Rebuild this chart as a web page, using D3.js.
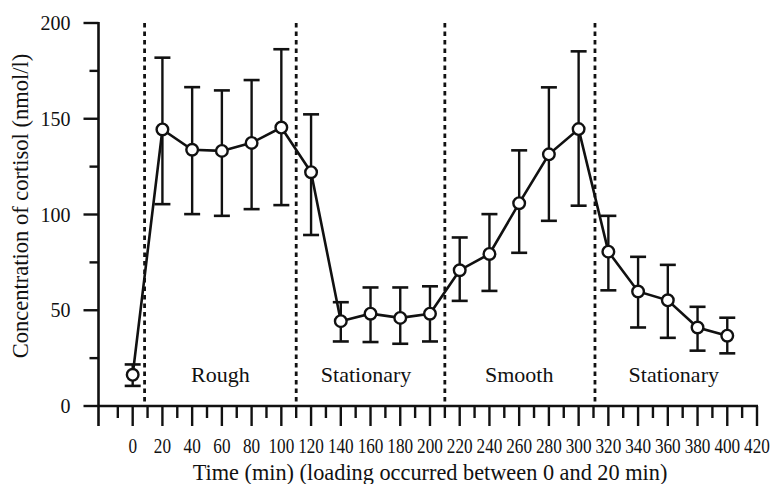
<!DOCTYPE html>
<html>
<head>
<meta charset="utf-8">
<script src="https://cdn.jsdelivr.net/npm/d3@7"></script>
<style>
  html, body { margin: 0; padding: 0; background: #fff; }
  svg { display: block; }
  text { font-family: "Liberation Serif", "DejaVu Serif", serif; fill: #111; }
</style>
</head>
<body>
<svg id="chart" width="771" height="484"></svg>
<script>
// ---- data ----
const times = [0, 20, 40, 60, 80, 100, 120, 140, 160, 180, 200, 220, 240, 260, 280, 300, 320, 340, 360, 380, 400];
const means = [16.3, 144.4, 133.8, 133.2, 137.4, 145.4, 122.1, 44.3, 48.2, 46.0, 48.2, 70.9, 79.4, 105.9, 131.4, 144.6, 80.6, 59.8, 55.2, 41.0, 36.7];
const upper = [21.7, 181.9, 166.5, 164.8, 170.2, 186.3, 152.3, 54.2, 61.9, 61.9, 62.5, 88.0, 100.2, 133.5, 166.4, 185.2, 99.3, 77.9, 73.7, 51.8, 46.1];
const lower = [10.5, 105.4, 100.2, 99.3, 102.8, 104.9, 89.3, 33.7, 33.4, 32.5, 33.7, 54.9, 60.1, 80.0, 96.7, 104.6, 60.4, 41.0, 35.6, 28.9, 27.5];
const phaseBounds = [8, 110, 210, 311];
const phaseNames = ["Rough", "Stationary", "Smooth", "Stationary"];
const phaseCenters = [59, 157, 260, 364];
const xTickValues = d3.range(0, 421, 20);
const xMinorValues = d3.range(-10, 421, 10);
const yTickValues = [0, 50, 100, 150, 200];
const yMinorValues = [25, 75, 125, 175];
const xTitle = "Time (min) (loading occurred between 0 and 20 min)";
const yTitle = "Concentration of cortisol (nmol/l)";

const svg = d3.select("#chart");
const x = d3.scaleLinear().domain([-23, 420]).range([98.5, 757]);
const y = d3.scaleLinear().domain([0, 200]).range([406, 23]);

const ink = "#111";

// ---- y axis ----
const yAxis = svg.append("g").attr("transform", `translate(${x(-23)},0)`);
yAxis.append("line").attr("y1", y(200) - 1).attr("y2", y(0) + 20)
  .attr("stroke", ink).attr("stroke-width", 2.6);
yAxis.selectAll("line.maj").data(yTickValues).join("line").attr("class", "maj")
  .attr("x1", -15).attr("x2", 0).attr("y1", d => y(d)).attr("y2", d => y(d))
  .attr("stroke", ink).attr("stroke-width", 2.4);
yAxis.selectAll("line.min").data(yMinorValues).join("line").attr("class", "min")
  .attr("x1", -9).attr("x2", 0).attr("y1", d => y(d)).attr("y2", d => y(d))
  .attr("stroke", ink).attr("stroke-width", 2.4);
yAxis.selectAll("text").data(yTickValues).join("text")
  .attr("x", -28).attr("y", d => y(d)).attr("dy", "0.35em")
  .attr("text-anchor", "end").attr("font-size", 20).text(d => d);

// ---- x axis ----
const xAxis = svg.append("g").attr("transform", `translate(0,${y(0)})`);
xAxis.append("line").attr("x1", x(-23)).attr("x2", x(420) + 1)
  .attr("stroke", ink).attr("stroke-width", 2.6);
xAxis.selectAll("line.tk").data(xMinorValues).join("line").attr("class", "tk")
  .attr("x1", d => x(d)).attr("x2", d => x(d))
  .attr("y1", 0).attr("y2", d => (d % 20 === 0 ? 20 : 12))
  .attr("stroke", ink).attr("stroke-width", 2.4);
xAxis.selectAll("text").data(xTickValues).join("text")
  .attr("transform", d => `translate(${x(d)},47) scale(0.86,1)`)
  .attr("text-anchor", "middle").attr("font-size", 20).text(d => d);

// ---- phase separators ----
svg.selectAll("line.phase").data(phaseBounds).join("line").attr("class", "phase")
  .attr("x1", d => x(d)).attr("x2", d => x(d))
  .attr("y1", y(200)).attr("y2", y(0))
  .attr("stroke", ink).attr("stroke-width", 2.8).attr("stroke-dasharray", "4.5,4");

svg.selectAll("text.phase").data(phaseNames).join("text").attr("class", "phase")
  .attr("x", (d, i) => x(phaseCenters[i])).attr("y", 382)
  .attr("text-anchor", "middle").attr("font-size", 22).text(d => d);

// ---- error bars ----
const capW = 8;
const eb = svg.append("g");
times.forEach((t, i) => {
  const g = eb.append("g");
  g.append("line").attr("x1", x(t)).attr("x2", x(t)).attr("y1", y(upper[i])).attr("y2", y(lower[i]))
    .attr("stroke", ink).attr("stroke-width", 2.4);
  [upper[i], lower[i]].forEach(v => {
    g.append("line").attr("x1", x(t) - capW).attr("x2", x(t) + capW).attr("y1", y(v)).attr("y2", y(v))
      .attr("stroke", ink).attr("stroke-width", 2.6);
  });
});

// ---- line ----
const line = d3.line().x((d, i) => x(times[i])).y(d => y(d));
svg.append("path").datum(means).attr("d", line)
  .attr("fill", "none").attr("stroke", ink).attr("stroke-width", 2.6);

// ---- markers ----
svg.selectAll("circle.pt").data(means).join("circle").attr("class", "pt")
  .attr("cx", (d, i) => x(times[i])).attr("cy", d => y(d)).attr("r", 5.8)
  .attr("fill", "#fff").attr("stroke", ink).attr("stroke-width", 2.4);

// ---- titles ----
svg.append("text").attr("x", 430).attr("y", 480).attr("text-anchor", "middle")
  .attr("font-size", 22.3).text(xTitle);
svg.append("text").attr("transform", "translate(28,206) rotate(-90)")
  .attr("text-anchor", "middle").attr("font-size", 22.5).text(yTitle);
</script>
</body>
</html>
